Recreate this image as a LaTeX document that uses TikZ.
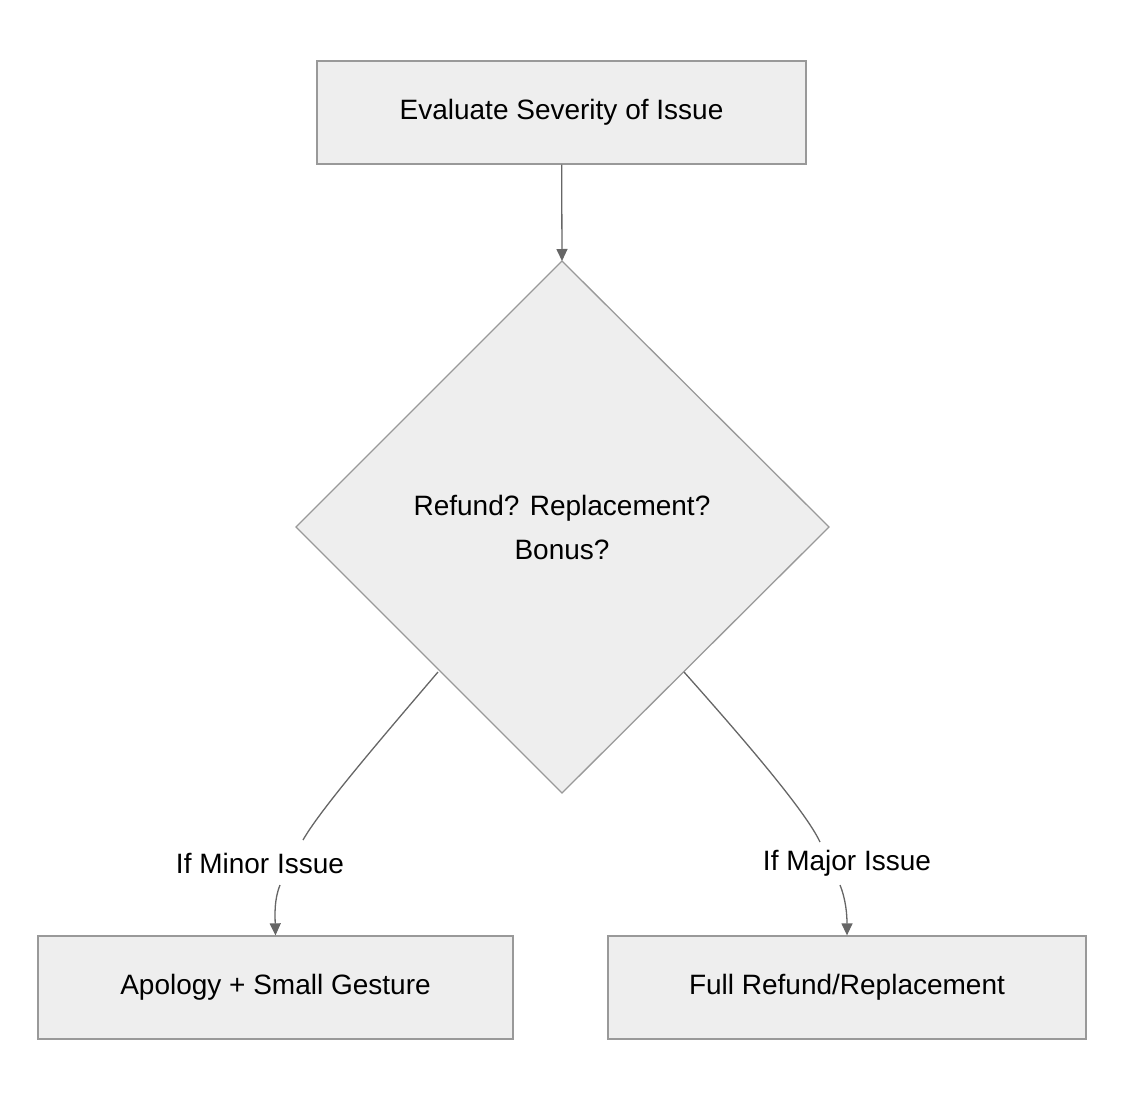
\documentclass[tikz,border=0pt]{standalone}
\usepackage{fontspec}
\setmainfont{Liberation Sans}
\usetikzlibrary{arrows.meta}
\definecolor{nodefill}{HTML}{EEEEEE}
\definecolor{nodeline}{HTML}{999999}
\definecolor{edgecol}{HTML}{666666}
\begin{document}
\begin{tikzpicture}[x=1pt,y=-1pt,
  boxstyle/.style={draw=nodeline,fill=nodefill,line width=1.3pt,font=\fontsize{28}{34}\selectfont,inner sep=0pt},
  edgestyle/.style={draw=edgecol,line width=1.3pt},
  arrowstyle/.style={edgestyle,-{Triangle[length=12pt,width=11pt]}},
  lbl/.style={font=\fontsize{28}{34}\selectfont,fill=white,inner sep=2pt}]
\useasboundingbox (0,0) rectangle (1124,1100);
\node[boxstyle,minimum width=489pt,minimum height=103pt] (top) at (561.5,112.5) {Evaluate Severity of Issue};
\coordinate (dt) at (562,261);
\coordinate (db) at (562,793);
\coordinate (dl) at (296,527);
\coordinate (dr) at (829,527);
\draw[draw=nodeline,fill=nodefill,line width=1.3pt] (dt) -- (dr) -- (db) -- (dl) -- cycle;
\node[font=\fontsize{28}{44}\selectfont,align=center] (dec) at (562,527) {Refund? Replacement?\\Bonus?};
\node[boxstyle,minimum width=475pt,minimum height=103pt] (left) at (275.5,987.5) {Apology + Small Gesture};
\node[boxstyle,minimum width=478pt,minimum height=103pt] (right) at (847,987.5) {Full Refund/Replacement};
\node[font=\fontsize{28}{34}\selectfont,inner sep=2pt] (lmin) at (260,863) {If Minor Issue};
\node[font=\fontsize{28}{34}\selectfont,inner sep=2pt] (lmaj) at (847,863) {If Major Issue};
\draw[arrowstyle] (top) -- (dt);
\coordinate (sl) at (438,672);
\coordinate (sr) at (684,672);
\draw[edgestyle] (sl) .. controls (380,740) and (320,810) .. (303,840);
\draw[arrowstyle] (280,885) .. controls (274,900) and (275,915) .. (left.north);
\draw[edgestyle] (sr) .. controls (740,735) and (805,810) .. (820,842);
\draw[arrowstyle] (840,885) .. controls (846,900) and (847,915) .. (right.north);
\end{tikzpicture}
\end{document}
